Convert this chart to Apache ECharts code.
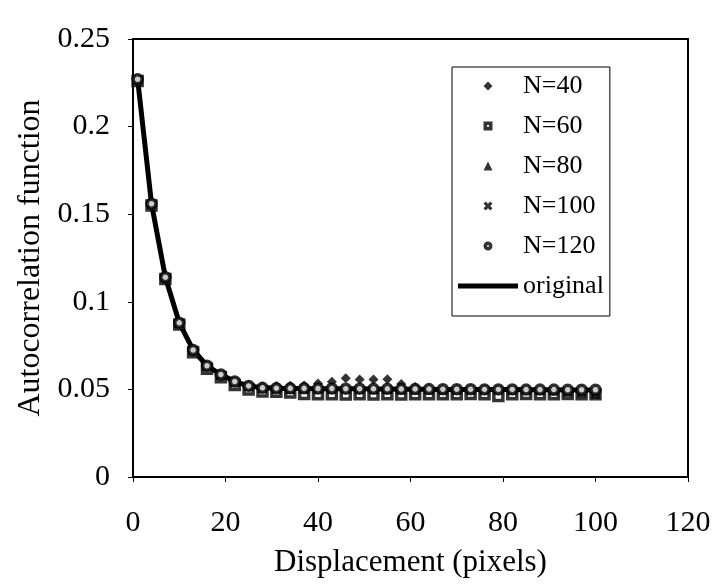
<!DOCTYPE html>
<html>
<head>
<meta charset="utf-8">
<script src="https://cdn.jsdelivr.net/npm/echarts@6/dist/echarts.min.js"></script>
<style>
  html, body { margin: 0; padding: 0; background: #fff; }
  #chart { width: 716px; height: 588px; }
</style>
</head>
<body>
<div id="chart"></div>
<script>
// displacement (pixels)
const displacement = [1, 4, 7, 10, 13, 16, 19, 22, 25, 28, 31, 34, 37, 40, 43, 46, 49, 52, 55, 58, 61, 64, 67, 70, 73, 76, 79, 82, 85, 88, 91, 94, 97, 100];

const original = [0.227, 0.156, 0.114, 0.088, 0.0725, 0.0635, 0.0585, 0.0545, 0.052, 0.0509, 0.0506, 0.0505, 0.0505, 0.0504, 0.0504, 0.0503, 0.0503, 0.0502, 0.0502, 0.0501, 0.0501, 0.0501, 0.05, 0.05, 0.05, 0.0499, 0.0499, 0.0499, 0.0498, 0.0498, 0.0498, 0.0497, 0.0497, 0.0497];
const n40 = [0.227, 0.156, 0.1145, 0.0885, 0.0728, 0.0638, 0.0588, 0.0548, 0.0525, 0.0516, 0.0519, 0.0521, 0.0522, 0.0533, 0.0543, 0.0563, 0.0556, 0.0557, 0.0558, 0.0531, 0.0513, 0.0505, 0.0504, 0.0503, 0.0503, 0.0502, 0.0501, 0.0501, 0.05, 0.05, 0.05, 0.0499, 0.0499, 0.0498];
const n60 = [0.226, 0.155, 0.113, 0.087, 0.0712, 0.0618, 0.057, 0.0525, 0.05, 0.0488, 0.0486, 0.0482, 0.0474, 0.0472, 0.0472, 0.0471, 0.0472, 0.0471, 0.0472, 0.0471, 0.0473, 0.0473, 0.0472, 0.0473, 0.0474, 0.0472, 0.0462, 0.0473, 0.0474, 0.0472, 0.0473, 0.0474, 0.0472, 0.0473];
const n80 = [0.227, 0.156, 0.114, 0.088, 0.0725, 0.0634, 0.0584, 0.0544, 0.052, 0.0508, 0.0505, 0.0504, 0.0504, 0.0503, 0.0504, 0.0503, 0.0502, 0.0502, 0.0502, 0.0501, 0.0501, 0.05, 0.05, 0.05, 0.05, 0.0499, 0.0499, 0.0498, 0.0498, 0.0497, 0.0494, 0.0487, 0.0482, 0.0476];
const n100 = [0.227, 0.156, 0.114, 0.088, 0.0726, 0.0636, 0.0586, 0.0546, 0.0521, 0.0509, 0.0506, 0.0505, 0.0504, 0.0504, 0.0503, 0.0503, 0.0503, 0.0502, 0.0502, 0.0501, 0.0501, 0.0501, 0.05, 0.05, 0.05, 0.0499, 0.0499, 0.0499, 0.0498, 0.0497, 0.0495, 0.0491, 0.0487, 0.0482];
const n120 = [0.227, 0.156, 0.114, 0.088, 0.0725, 0.0635, 0.0585, 0.0545, 0.052, 0.0509, 0.0507, 0.0506, 0.0506, 0.0505, 0.0505, 0.0504, 0.0504, 0.0503, 0.0503, 0.0502, 0.0502, 0.0502, 0.0501, 0.0501, 0.0501, 0.05, 0.05, 0.05, 0.0499, 0.0499, 0.0499, 0.0498, 0.0498, 0.0498];

const seriesNames = ["N=40", "N=60", "N=80", "N=100", "N=120", "original"];

// marker shapes
const crossPath = "path://M0,2.5L2.5,0L5,2.5L7.5,0L10,2.5L7.5,5L10,7.5L7.5,10L5,7.5L2.5,10L0,7.5L2.5,5Z";
const legendIcons = [
    "path://M5,0L10,5L5,10L0,5Z",
    "path://M0,0H10V10H0Z M4,4V6H6V4Z",
    "path://M5,0L10,10L0,10Z",
    crossPath,
    "path://M0,5A5,5,0,1,1,10,5A5,5,0,1,1,0,5Z M4,5A1,1,0,1,0,6,5A1,1,0,1,0,4,5Z",
    "path://M0,0H60V5H0Z"
];

const pairs = (ys) => displacement.map((x, i) => [x, ys[i]]);
const FONT = "Liberation Serif";

const chart = echarts.init(document.getElementById("chart"), null, { renderer: "canvas" });

chart.setOption({
    backgroundColor: "#fff",
    animation: false,
    textStyle: { fontFamily: FONT, color: "#000" },
    grid: {
        left: 133, right: 28, top: 39, bottom: 111,
        show: true, borderColor: "#000", borderWidth: 2
    },
    legend: {
        orient: "vertical",
        left: 452,
        top: 67,
        itemWidth: 60,
        itemHeight: 9,
        itemGap: 12,
        symbolKeepAspect: true,
        padding: [5, 6, 16, 6],
        borderColor: "#000",
        borderWidth: 1,
        backgroundColor: "#fff",
        textStyle: { fontFamily: FONT, fontSize: 26, lineHeight: 28, color: "#000" },
        data: seriesNames.map((name, i) => ({
            name: name,
            icon: legendIcons[i],
            itemStyle: { color: "#000", borderWidth: 0 }
        }))
    },
    xAxis: {
        type: "value",
        min: 0, max: 120, interval: 20,
        name: "Displacement (pixels)",
        nameLocation: "middle",
        nameGap: 70,
        nameTextStyle: { fontFamily: FONT, fontSize: 31, color: "#000" },
        axisLine: { lineStyle: { color: "#000", width: 2 } },
        axisTick: { length: 5, lineStyle: { color: "#000" } },
        splitLine: { show: false },
        axisLabel: { fontFamily: FONT, fontSize: 30, color: "#000", margin: 31 }
    },
    yAxis: {
        type: "value",
        min: 0, max: 0.25, interval: 0.05,
        name: "Autocorrelation function",
        nameLocation: "middle",
        nameGap: 86,
        nameTextStyle: { fontFamily: FONT, fontSize: 32, color: "#000" },
        axisLine: { show: true, lineStyle: { color: "#000", width: 2 } },
        axisTick: { show: true, length: 5, lineStyle: { color: "#000" } },
        splitLine: { show: false },
        axisLabel: { fontFamily: FONT, fontSize: 30, color: "#000", margin: 23 }
    },
    series: [
        {
            name: "N=40", type: "scatter", z: 3,
            symbol: "diamond", symbolSize: 10,
            itemStyle: { color: "#000" },
            data: pairs(n40)
        },
        {
            name: "N=60", type: "scatter", z: 3,
            symbol: "rect", symbolSize: 9,
            itemStyle: { color: "#fff", borderColor: "#000", borderWidth: 3.5 },
            data: pairs(n60)
        },
        {
            name: "N=80", type: "scatter", z: 3,
            symbol: "triangle", symbolSize: 10,
            itemStyle: { color: "#000" },
            data: pairs(n80)
        },
        {
            name: "N=100", type: "scatter", z: 3,
            symbol: crossPath, symbolSize: 9,
            itemStyle: { color: "#000" },
            data: pairs(n100)
        },
        {
            name: "N=120", type: "scatter", z: 3,
            symbol: "circle", symbolSize: 9,
            itemStyle: { color: "#fff", borderColor: "#000", borderWidth: 3.5 },
            data: pairs(n120)
        },
        {
            name: "original", type: "line", z: 2,
            showSymbol: false, symbol: "none",
            itemStyle: { color: "#000" },
            lineStyle: { color: "#000", width: 5 },
            data: pairs(original)
        }
    ]
});
</script>
</body>
</html>
